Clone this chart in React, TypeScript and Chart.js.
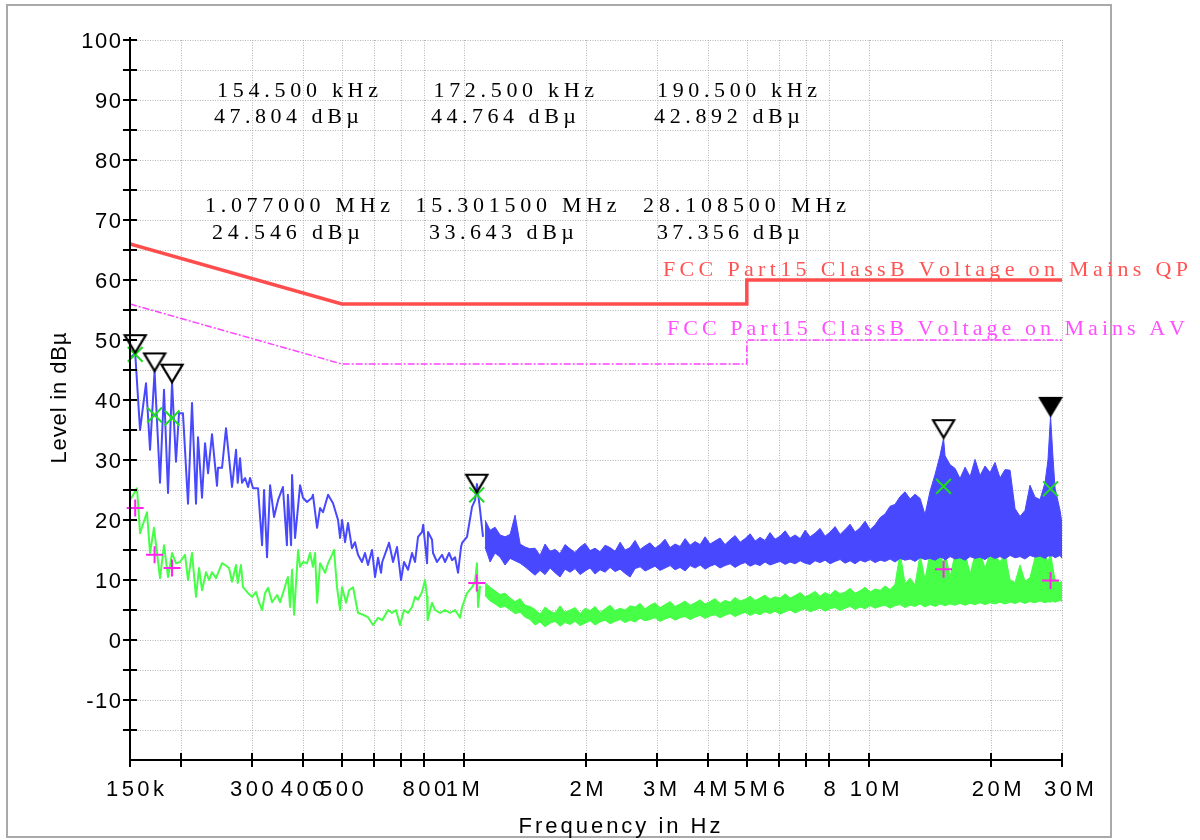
import React, { useEffect, useRef } from "react";
import { Chart, registerables } from "chart.js";

Chart.register(...registerables);

// ---------------- data ----------------
// Peak detector trace (blue), low-frequency part: frequency in MHz, level in dBµV
const peakLowFreqMHz = [
  0.1500, 0.1545, 0.1588, 0.1643, 0.1681, 0.1725, 0.1779, 0.1820, 0.1862, 0.1905,
  0.1948, 0.1982, 0.2027, 0.2086, 0.2134, 0.2183, 0.2208, 0.2259, 0.2298, 0.2338,
  0.2391, 0.2460, 0.2474, 0.2531, 0.2589, 0.2679, 0.2741, 0.2767, 0.2804, 0.2836,
  0.2885, 0.2935, 0.2968, 0.3019, 0.3106, 0.3178, 0.3214, 0.3269, 0.3326, 0.3402,
  0.3480, 0.3578, 0.3660, 0.3681, 0.3748, 0.3769, 0.3834, 0.3945, 0.4010, 0.4103,
  0.4220, 0.4244, 0.4345, 0.4420, 0.4494, 0.4625, 0.4757, 0.4895, 0.4952, 0.5008,
  0.5094, 0.5180, 0.5298, 0.5390, 0.5483, 0.5608, 0.5705, 0.5803, 0.5938, 0.6040,
  0.6144, 0.6250, 0.6293, 0.6541, 0.6691, 0.6845, 0.7002, 0.7123, 0.7287, 0.7454,
  0.7583, 0.7713, 0.7890, 0.7943, 0.8118, 0.8165, 0.8352, 0.8400, 0.8593, 0.8841,
  0.8993, 0.9200, 0.9358, 0.9519, 0.9683, 0.9850, 0.9910, 1.0189, 1.0485, 1.0666,
  1.0780, 1.0974, 1.1159,
];
const peakLowDb = [
  47.0, 47.8, 35.0, 42.8, 31.7, 44.8, 26.2, 41.7, 24.5, 42.9,
  29.7, 37.8, 37.8, 22.7, 39.5, 22.7, 33.8, 23.7, 32.8, 27.8,
  34.3, 25.7, 28.7, 28.7, 35.3, 25.5, 31.7, 26.2, 30.3, 26.2,
  27.0, 25.5, 27.0, 25.3, 25.3, 15.8, 25.0, 13.8, 25.8, 20.5,
  23.3, 25.5, 15.8, 24.2, 15.8, 27.5, 17.0, 25.8, 23.7, 23.0,
  23.7, 24.2, 18.7, 22.0, 21.3, 24.2, 22.8, 20.0, 17.0, 20.0,
  16.3, 19.5, 15.3, 16.3, 14.2, 13.0, 14.5, 12.5, 15.0, 10.5,
  13.7, 11.2, 13.0, 16.2, 13.0, 15.5, 10.0, 13.0, 11.7, 14.5,
  13.0, 17.2, 18.0, 19.2, 12.8, 18.0, 16.7, 14.5, 13.0, 14.2,
  13.0, 14.5, 13.3, 13.8, 11.2, 15.5, 16.2, 17.2, 22.2, 23.3,
  26.0, 21.7, 17.2,
];

// Average detector trace (green), low-frequency part
const avgLowFreqMHz = [
  0.1500, 0.1561, 0.1588, 0.1652, 0.1681, 0.1719, 0.1779, 0.1820, 0.1862, 0.1905,
  0.1948, 0.1993, 0.2051, 0.2086, 0.2134, 0.2183, 0.2221, 0.2259, 0.2311, 0.2351,
  0.2391, 0.2446, 0.2531, 0.2575, 0.2634, 0.2679, 0.2741, 0.2767, 0.2819, 0.2851,
  0.2935, 0.3002, 0.3071, 0.3123, 0.3178, 0.3232, 0.3288, 0.3364, 0.3461, 0.3520,
  0.3578, 0.3681, 0.3726, 0.3769, 0.3812, 0.3900, 0.3945, 0.4010, 0.4103, 0.4175,
  0.4244, 0.4296, 0.4345, 0.4420, 0.4547, 0.4625, 0.4728, 0.4784, 0.4866, 0.4952,
  0.5008, 0.5123, 0.5211, 0.5331, 0.5483, 0.5644, 0.5803, 0.5971, 0.6144, 0.6293,
  0.6504, 0.6653, 0.6806, 0.6962, 0.7123, 0.7287, 0.7454, 0.7583, 0.7713, 0.7890,
  0.8026, 0.8118, 0.8142, 0.8352, 0.8494, 0.8741, 0.8993, 0.9252, 0.9519, 0.9794,
  0.9910, 1.0189, 1.0485, 1.0666, 1.0780, 1.0850, 1.0974,
];
const avgLowDb = [
  23.3, 25.3, 17.8, 21.3, 14.5, 18.7, 10.3, 15.8, 10.5, 14.5,
  12.8, 13.0, 14.2, 10.0, 14.5, 7.2, 12.0, 8.3, 11.3, 10.0,
  11.3, 10.3, 12.8, 12.5, 12.0, 9.7, 12.5, 9.5, 12.5, 8.8,
  7.8, 7.2, 8.0, 6.3, 5.0, 7.8, 8.7, 6.3, 7.5, 6.3,
  7.8, 10.5, 5.5, 11.7, 4.2, 15.0, 12.2, 13.0, 12.8, 14.5,
  12.2, 14.5, 6.2, 12.8, 11.2, 12.8, 14.2, 15.0, 8.8, 5.0,
  8.8, 6.2, 8.3, 8.8, 4.5, 4.2, 3.8, 2.5, 3.7, 3.3,
  5.0, 4.5, 5.0, 2.5, 5.0, 4.5, 5.5, 7.2, 6.7, 8.0,
  10.0, 7.2, 3.3, 6.2, 5.0, 4.5, 5.0, 4.5, 5.0, 3.7,
  5.5, 7.8, 8.8, 9.7, 12.8, 5.5, 9.0,
];

// Dense part of the sweep (1.13 MHz - 30 MHz): upper / lower envelopes
const bandFreqMHz = [
  1.129, 1.162, 1.195, 1.230, 1.265, 1.302, 1.339, 1.378, 1.417, 1.458,
  1.500, 1.543, 1.588, 1.634, 1.681, 1.729, 1.779, 1.831, 1.883, 1.938,
  1.994, 2.051, 2.110, 2.171, 2.234, 2.298, 2.365, 2.433, 2.503, 2.575,
  2.649, 2.726, 2.804, 2.885, 2.968, 3.053, 3.141, 3.232, 3.325, 3.421,
  3.520, 3.622, 3.726, 3.834, 3.944, 4.056, 4.173, 4.293, 4.417, 4.545,
  4.678, 4.813, 4.952, 5.095, 5.242, 5.390, 5.545, 5.705, 5.870, 6.039,
  6.217, 6.396, 6.580, 6.770, 6.965, 7.163, 7.370, 7.582, 7.801, 8.026,
  8.258, 8.496, 8.741, 8.993, 9.253, 9.519, 9.794, 10.08, 10.37, 10.67,
  10.97, 11.29, 11.61, 11.95, 12.29, 12.65, 13.01, 13.39, 13.77, 14.17,
  14.58, 15.00, 15.30, 15.43, 15.88, 16.34, 16.80, 17.29, 17.79, 18.30,
  18.83, 19.37, 19.93, 20.50, 21.09, 21.70, 22.33, 22.97, 23.63, 24.31,
  25.01, 25.74, 26.48, 27.24, 27.70, 28.11, 28.50, 28.84, 29.67, 30.00,
];
const peakBandHiDb = [
  20.0, 18.3, 18.8, 17.5, 17.2, 17.6, 20.8, 16.0, 15.5, 15.2,
  15.3, 14.1, 16.0, 14.8, 15.1, 14.4, 15.9, 15.2, 14.6, 15.5,
  16.1, 14.9, 15.3, 14.7, 15.8, 15.4, 14.8, 16.3, 15.0, 15.4,
  16.6, 15.1, 15.7, 16.2, 15.3, 15.9, 16.8, 15.4, 16.0, 15.6,
  16.9, 15.8, 16.4, 15.9, 17.2, 16.0, 16.5, 17.0, 15.9, 16.7,
  17.4, 16.3, 16.9, 17.7, 16.5, 17.1, 16.6, 17.9, 16.8, 17.3,
  18.2, 17.0, 17.5, 16.9, 18.3, 17.2, 17.8, 18.6, 17.3, 18.0,
  18.9, 17.6, 18.4, 19.3, 18.0, 18.7, 19.8, 18.4, 19.2, 20.4,
  21.0, 22.3, 22.6, 23.9, 24.7, 23.5, 24.3, 23.6, 20.9, 24.8,
  27.6, 30.8, 33.6, 30.7, 29.2, 28.6, 26.9, 28.8, 27.2, 30.1,
  27.4, 29.0, 27.9, 29.6, 27.0, 28.4, 28.3, 21.9, 20.6, 21.6,
  25.8, 23.8, 23.4, 26.2, 30.0, 37.3, 30.5, 25.3, 21.6, 19.4,
];
const peakBandLoDb = [
  15.5, 13.0, 14.5, 13.8, 12.5, 13.6, 13.2, 12.8, 12.2, 11.5,
  10.8, 11.6, 10.9, 12.0, 11.2, 10.5, 11.8, 11.3, 11.9, 10.9,
  11.5, 12.0, 11.0, 11.7, 11.3, 12.1, 11.4, 11.8, 11.1, 10.5,
  11.9, 12.2, 11.5, 11.9, 12.3, 11.6, 12.0, 12.4, 11.7, 12.1,
  11.5, 12.4, 12.0, 12.5, 11.8, 12.3, 12.6, 12.0, 12.4, 12.7,
  12.1, 12.6, 12.9, 12.3, 12.7, 12.4, 13.0, 12.5, 12.8, 13.1,
  12.6, 13.0, 12.7, 13.2, 12.8, 12.6, 13.2, 12.9, 13.3, 12.7,
  13.1, 13.4, 12.8, 13.2, 12.7, 13.3, 13.0, 13.4, 12.9, 13.3,
  13.1, 13.5, 13.0, 13.6, 13.3, 13.5, 13.1, 13.7, 13.4, 13.6,
  13.3, 13.8, 13.6, 13.3, 13.9, 13.5, 13.7, 13.3, 13.9, 13.6,
  13.8, 13.4, 14.0, 13.6, 13.9, 13.5, 14.1, 13.7, 13.9, 13.5,
  14.1, 13.8, 14.0, 13.6, 14.0, 14.0, 14.0, 13.7, 14.1, 13.6,
];
const avgBandHiDb = [
  9.6, 8.8, 8.2, 7.6, 7.8, 7.0, 6.4, 6.9, 5.8, 5.6,
  5.1, 4.3, 5.5, 4.8, 4.5, 5.7, 4.6, 5.0, 5.4, 4.4,
  5.3, 4.9, 5.6, 4.6, 5.2, 5.8, 4.9, 5.3, 5.0, 5.7,
  5.5, 6.1, 5.2, 5.8, 6.2, 5.4, 5.9, 6.4, 5.6, 6.0,
  6.5, 5.8, 6.2, 6.7, 6.0, 6.4, 6.9, 6.1, 6.6, 6.3,
  7.1, 6.5, 6.8, 7.3, 6.6, 7.0, 7.5, 6.8, 7.2, 7.0,
  7.7, 7.0, 7.4, 7.9, 7.2, 7.6, 8.1, 7.3, 7.9, 7.5,
  8.3, 7.7, 8.0, 8.6, 7.8, 8.2, 8.8, 8.0, 8.5, 8.3,
  9.0, 8.4, 9.3, 14.6, 9.4, 10.3, 9.2, 14.2, 10.1, 14.6,
  13.4, 14.5, 12.5, 14.8, 10.5, 14.5, 13.8, 14.6, 11.0, 14.3,
  14.7, 12.0, 14.5, 14.2, 13.0, 14.4, 10.0, 9.6, 12.5, 9.8,
  10.4, 13.8, 14.6, 14.2, 13.0, 14.5, 12.0, 10.0, 9.6, 9.8,
];
const avgBandLoDb = [
  7.4, 6.5, 6.0, 5.4, 5.6, 5.0, 4.4, 4.6, 3.8, 3.4,
  2.5, 3.0, 2.2, 2.8, 3.1, 2.3, 2.9, 2.6, 3.1, 2.4,
  2.8, 3.2, 2.5, 3.0, 3.3, 2.7, 3.1, 3.4, 2.9, 3.3,
  3.0, 3.6, 3.2, 3.4, 3.7, 3.1, 3.5, 3.8, 3.3, 3.7,
  3.9, 3.4, 3.8, 4.1, 3.6, 4.0, 4.2, 3.7, 4.1, 4.4,
  3.9, 4.3, 4.6, 4.1, 4.5, 4.2, 4.7, 4.4, 4.8, 4.3,
  4.7, 5.0, 4.5, 4.9, 5.2, 4.7, 5.0, 5.3, 4.8, 5.2,
  5.4, 4.9, 5.3, 5.6, 5.1, 5.5, 5.2, 5.7, 5.3, 5.6,
  5.8, 5.3, 5.7, 5.9, 5.4, 5.8, 5.6, 6.0, 5.5, 5.9,
  5.6, 6.0, 5.8, 5.7, 6.0, 5.8, 6.1, 5.8, 6.1, 5.9,
  6.2, 5.9, 6.2, 6.0, 6.3, 6.0, 6.3, 6.1, 6.4, 6.1,
  6.4, 6.2, 6.5, 6.2, 6.4, 6.3, 6.5, 6.3, 6.6, 6.4,
];

// Markers
const markerFreqMHz = [0.1545, 0.1725, 0.1905, 1.077, 15.3015, 28.1085];
const markerPeakDb = [47.804, 44.764, 42.892, 24.546, 33.643, 37.356];
const markerQpDb = [47.6, 37.5, 37.0, 24.2, 25.6, 25.2];
const markerAvDb = [22.0, 14.2, 12.0, 9.5, 11.8, 9.9];
const markerFilled = [false, false, false, false, false, true];
const markerFreqText = ["154.500 kHz", "172.500 kHz", "190.500 kHz", "1.077000 MHz", "15.301500 MHz", "28.108500 MHz"];
const markerLevelText = ["47.804 dBµ", "44.764 dBµ", "42.892 dBµ", "24.546 dBµ", "33.643 dBµ", "37.356 dBµ"];

// Limit lines
const limitFreqMHz = [0.15, 0.5, 5, 5, 30];
const limitQpDb = [66, 56, 56, 60, 60];
const limitAvDb = [56, 46, 46, 50, 50];
const limitQpName = "FCC Part15 ClassB Voltage on Mains QP";
const limitAvName = "FCC Part15 ClassB Voltage on Mains AV";

// Axes
const xTickMHz = [0.15, 0.2, 0.3, 0.4, 0.5, 0.6, 0.7, 0.8, 1, 2, 3, 4, 5, 6, 7, 8, 10, 20, 30];
const xTickText = ["150k", "", "300", "400", "500", "", "", "800", "1M", "2M", "3M", "4M", "5M", "6", "", "8", "10M", "20M", "30M"];
const yLabelValues = [100, 90, 80, 70, 60, 50, 40, 30, 20, 10, 0, -10];
const yMinorValues = [100, 95, 90, 85, 80, 75, 70, 65, 60, 55, 50, 45, 40, 35, 30, 25, 20, 15, 10, 5, 0, -5, -10, -15];
const xTitle = "Frequency in Hz";
const yTitle = "Level in dBµ";

// ---------------- drawing helpers ----------------
const SANS = '"Liberation Sans", Arial, Helvetica, sans-serif';
const SERIF = '"Liberation Serif", "Times New Roman", serif';

const pts = (f: number[], v: number[]) => f.map((fm, i) => ({ x: fm * 1e6, y: v[i] }));

function drawSpaced(ctx: CanvasRenderingContext2D, text: string, x: number, y: number, spacing: number, align: string) {
  const chars = Array.from(text);
  const w = chars.map((c) => ctx.measureText(c).width);
  const total = w.reduce((s, v) => s + v, 0) + spacing * (chars.length - 1);
  let cx = align === "left" ? x : align === "center" ? x - total / 2 : x - total;
  ctx.textAlign = "left";
  chars.forEach((c, i) => {
    ctx.fillText(c, cx, y);
    cx += w[i] + spacing;
  });
}

function drawFit(ctx: CanvasRenderingContext2D, text: string, left: number, y: number, width: number) {
  const chars = Array.from(text);
  const natural = chars.reduce((s, c) => s + ctx.measureText(c).width, 0);
  const spacing = chars.length > 1 ? (width - natural) / (chars.length - 1) : 0;
  drawSpaced(ctx, text, left, y, spacing, "left");
}

function makeTriangle(filled: boolean) {
  const c = document.createElement("canvas");
  c.width = 26;
  c.height = 42;
  const g = c.getContext("2d")!;
  g.beginPath();
  g.moveTo(2.5, 3);
  g.lineTo(23.5, 3);
  g.lineTo(13, 20.5);
  g.closePath();
  g.lineWidth = 2.2;
  g.strokeStyle = "#000";
  if (filled) {
    g.fillStyle = "#000";
    g.fill();
  }
  g.stroke();
  return c;
}

// layout of the marker read-outs (pixel boxes: left, width, baseline)
const readoutFreqBox = [
  [217, 161, 97], [433.5, 160.5, 97], [657, 160, 97],
  [205, 185, 212], [415.6, 201, 212], [643, 203, 212],
];
const readoutLevelBox = [
  [214, 145, 123], [431, 145, 123], [654, 146, 123],
  [212, 148, 239], [429, 145, 239], [657, 143, 239],
];
const xLabelShift: Record<string, number> = { "150k": 5, "1M": -1, "2M": 1, "3M": 3, "4M": 3, "5M": 4, "10M": 6, "20M": 6, "30M": 7 };

const decorPlugin = {
  id: "emcDecor",
  beforeDraw(chart: any) {
    const ctx = chart.ctx as CanvasRenderingContext2D;
    ctx.save();
    ctx.fillStyle = "#fff";
    ctx.fillRect(0, 0, chart.width, chart.height);
    ctx.strokeStyle = "#a9a9a9";
    ctx.lineWidth = 2;
    ctx.strokeRect(7, 5, 1104, 832);
    ctx.restore();
  },
  beforeDatasetsDraw(chart: any) {
    const ctx = chart.ctx as CanvasRenderingContext2D;
    const a = chart.chartArea;
    const xs = chart.scales.x;
    const ys = chart.scales.y;
    ctx.save();
    ctx.strokeStyle = "#b4b4b4";
    ctx.lineWidth = 1;
    ctx.setLineDash([1, 1.5]);
    yMinorValues.forEach((v) => {
      const py = Math.round(ys.getPixelForValue(v)) + 0.5;
      ctx.beginPath();
      ctx.moveTo(a.left, py);
      ctx.lineTo(a.right, py);
      ctx.stroke();
    });
    xTickMHz.forEach((f, i) => {
      if (i === 0) return;
      const px = Math.round(xs.getPixelForValue(f * 1e6)) + 0.5;
      ctx.beginPath();
      ctx.moveTo(px, a.top);
      ctx.lineTo(px, a.bottom);
      ctx.stroke();
    });
    ctx.restore();
  },
  afterDatasetsDraw(chart: any) {
    const ctx = chart.ctx as CanvasRenderingContext2D;
    const a = chart.chartArea;
    const xs = chart.scales.x;
    const ys = chart.scales.y;
    ctx.save();
    ctx.setLineDash([]);
    ctx.strokeStyle = "#000";
    ctx.lineWidth = 2;
    ctx.beginPath();
    ctx.moveTo(a.left, a.top - 3);
    ctx.lineTo(a.left, a.bottom + 1);
    ctx.moveTo(a.left - 1, a.bottom);
    ctx.lineTo(a.right + 1, a.bottom);
    ctx.stroke();
    yMinorValues.forEach((v) => {
      const py = Math.round(ys.getPixelForValue(v));
      ctx.beginPath();
      ctx.moveTo(a.left - 7, py);
      ctx.lineTo(a.left + 7, py);
      ctx.stroke();
    });
    xTickMHz.forEach((f) => {
      const px = Math.round(xs.getPixelForValue(f * 1e6));
      ctx.beginPath();
      ctx.moveTo(px, a.bottom - 7);
      ctx.lineTo(px, a.bottom + 7);
      ctx.stroke();
    });
    ctx.fillStyle = "#000";
    ctx.font = `22px ${SANS}`;
    ctx.textBaseline = "alphabetic";
    yLabelValues.forEach((v) => {
      const py = ys.getPixelForValue(v);
      drawSpaced(ctx, String(v), a.left - 9, py + 8, 1.5, "right");
    });
    xTickMHz.forEach((f, i) => {
      const t = xTickText[i];
      if (!t) return;
      const px = xs.getPixelForValue(f * 1e6) + (xLabelShift[t] || 0);
      drawSpaced(ctx, t, px, a.bottom + 36, 3.5, "center");
    });
    drawFit(ctx, xTitle, 518.5, 833, 202);
    ctx.save();
    ctx.translate(66, 398);
    ctx.rotate(-Math.PI / 2);
    drawFit(ctx, yTitle, -65.5, 0, 131);
    ctx.restore();
    ctx.font = `22px ${SERIF}`;
    ctx.fillStyle = "#000";
    markerFreqText.forEach((t, i) => {
      const b = readoutFreqBox[i];
      drawFit(ctx, t, b[0], b[2], b[1]);
    });
    markerLevelText.forEach((t, i) => {
      const b = readoutLevelBox[i];
      drawFit(ctx, t, b[0], b[2], b[1]);
    });
    ctx.fillStyle = "#ff5454";
    drawFit(ctx, limitQpName, 663, 276, 525);
    ctx.fillStyle = "#ff50ff";
    drawFit(ctx, limitAvName, 667, 335, 518);
    ctx.restore();
  },
};

export default function App() {
  const ref = useRef<HTMLCanvasElement>(null);

  useEffect(() => {
    const canvas = ref.current;
    if (!canvas) return;
    const openTri = makeTriangle(false);
    const filledTri = makeTriangle(true);
    const blue = "#4848ff";
    const green = "#46ff46";
    const lineBase = { pointRadius: 0, pointHitRadius: 0, tension: 0, borderJoinStyle: "round" as const, fill: false };

    const chart = new Chart(canvas, {
      type: "line",
      data: {
        datasets: [
          {
            label: "Peak markers",
            data: pts(markerFreqMHz, markerPeakDb),
            showLine: false,
            pointStyle: markerFilled.map((f) => (f ? filledTri : openTri)) as any,
            pointRadius: 10,
            clip: false as any,
            order: 0,
          },
          {
            label: "QP",
            data: pts(markerFreqMHz, markerQpDb),
            showLine: false,
            pointStyle: "crossRot",
            pointRadius: 10.5,
            pointBorderColor: "#1edc1e",
            pointBorderWidth: 2,
            clip: false as any,
            order: 1,
          },
          {
            label: "AV",
            data: pts(markerFreqMHz, markerAvDb),
            showLine: false,
            pointStyle: "cross",
            pointRadius: 8.5,
            pointBorderColor: "#ff22ee",
            pointBorderWidth: 2,
            clip: false as any,
            order: 2,
          },
          {
            ...lineBase,
            label: limitQpName,
            data: pts(limitFreqMHz, limitQpDb),
            borderColor: "#ff4d4d",
            borderWidth: 3.5,
            borderJoinStyle: "miter",
            order: 3,
          },
          {
            ...lineBase,
            label: limitAvName,
            data: pts(limitFreqMHz, limitAvDb),
            borderColor: "#ff44ff",
            borderWidth: 1.5,
            borderDash: [7, 2, 2, 2],
            borderJoinStyle: "miter",
            order: 4,
          },
          {
            ...lineBase,
            label: "Peak",
            data: pts(peakLowFreqMHz, peakLowDb),
            borderColor: blue,
            borderWidth: 2,
            order: 5,
          },
          {
            ...lineBase,
            label: "Peak hi",
            data: pts(bandFreqMHz, peakBandHiDb),
            borderColor: blue,
            borderWidth: 1,
            order: 6,
          },
          {
            ...lineBase,
            label: "Peak lo",
            data: pts(bandFreqMHz, peakBandLoDb),
            borderColor: blue,
            borderWidth: 1,
            backgroundColor: blue,
            fill: "-1",
            order: 7,
          },
          {
            ...lineBase,
            label: "Average",
            data: pts(avgLowFreqMHz, avgLowDb),
            borderColor: green,
            borderWidth: 2,
            order: 8,
          },
          {
            ...lineBase,
            label: "Average hi",
            data: pts(bandFreqMHz, avgBandHiDb),
            borderColor: green,
            borderWidth: 1,
            order: 9,
          },
          {
            ...lineBase,
            label: "Average lo",
            data: pts(bandFreqMHz, avgBandLoDb),
            borderColor: green,
            borderWidth: 1,
            backgroundColor: green,
            fill: "-1",
            order: 10,
          },
        ] as any,
      },
      options: {
        responsive: false,
        animation: false,
        devicePixelRatio: 1,
        events: [],
        layout: { padding: { left: 130, right: 138, top: 40, bottom: 80 } },
        scales: {
          x: { type: "logarithmic", min: 150000, max: 30000000, display: false },
          y: { type: "linear", min: -20, max: 100, display: false },
        },
        plugins: {
          legend: { display: false },
          tooltip: { enabled: false },
        },
      },
      plugins: [decorPlugin],
    });
    return () => chart.destroy();
  }, []);

  return (
    <div style={{ position: "absolute", left: 0, top: 0, width: 1200, height: 840, background: "#fff" }}>
      <canvas ref={ref} width={1200} height={840} style={{ display: "block", width: 1200, height: 840 }} />
    </div>
  );
}
